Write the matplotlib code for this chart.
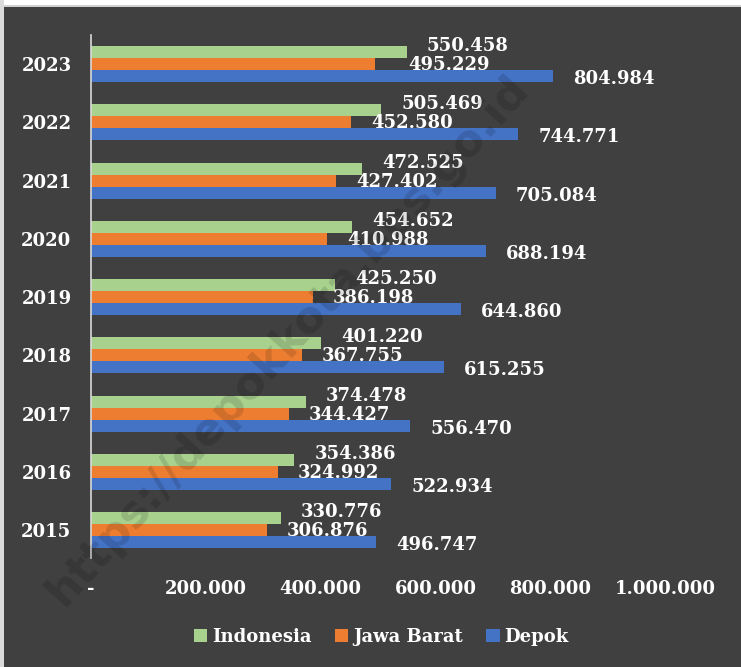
import matplotlib
matplotlib.use("Agg")
import matplotlib.pyplot as plt
from matplotlib.patches import Rectangle, Patch
import numpy as np

years = ["2015", "2016", "2017", "2018", "2019", "2020", "2021", "2022", "2023"]
indonesia = [330776, 354386, 374478, 401220, 425250, 454652, 472525, 505469, 550458]
jawa_barat = [306876, 324992, 344427, 367755, 386198, 410988, 427402, 452580, 495229]
depok = [496747, 522934, 556470, 615255, 644860, 688194, 705084, 744771, 804984]
series_names = ["Indonesia", "Jawa Barat", "Depok"]
xticks = [0, 200000, 400000, 600000, 800000, 1000000]

BG = "#404040"
colors = ["#A9D18E", "#ED7D31", "#4472C4"]
FONT = "DejaVu Serif"

def fmt(v):
    return "-" if v == 0 else f"{v:,}".replace(",", ".")

W, H = 741, 667
fig = plt.figure(figsize=(W / 100, H / 100), dpi=100, facecolor=BG)
ax = fig.add_axes([91 / W, (H - 558) / H, (665 - 91) / W, (558 - 35) / H])
ax.set_facecolor(BG)

y = np.arange(len(years))
bh = 0.206
offsets = [bh, 0, -bh]
label_dy = [6, -1, -3]  # pixels
for vals, off, c, name, dy in zip([indonesia, jawa_barat, depok], offsets, colors, series_names, label_dy):
    ax.barh(y + off, vals, height=bh, color=c, label=name, zorder=2)
    for yi, v in zip(y, vals):
        dx = 20
        if name == "Jawa Barat" and yi == len(years) - 1:
            dx = 33
        ax.annotate(fmt(v), xy=(v, yi + off), xytext=(dx * 0.72, dy * 0.72),
                    textcoords="offset points", ha="left", va="center",
                    color="white", fontsize=13, fontweight="bold", family=FONT, zorder=3)

ax.set_xlim(0, 1000000)
ax.set_ylim(-0.48, 8.5)
ax.set_xticks(xticks)
ax.set_xticklabels([fmt(v) for v in xticks])
ax.set_yticks(y)
ax.set_yticklabels(years)
for lab in ax.get_xticklabels() + ax.get_yticklabels():
    lab.set_color("white")
    lab.set_fontsize(13)
    lab.set_fontweight("bold")
    lab.set_family(FONT)
ax.tick_params(axis="x", length=0, pad=16)
ax.tick_params(axis="y", length=0, pad=14)
for s in ["top", "right", "bottom"]:
    ax.spines[s].set_visible(False)
ax.spines["left"].set_color("#D9D9D9")
ax.spines["left"].set_linewidth(1.2)

handles = [Patch(facecolor=c, edgecolor="none") for c in colors]
leg = fig.legend(handles, series_names, loc="center", bbox_to_anchor=(381 / W, 1 - 637 / H),
                 ncol=3, frameon=False, handlelength=0.75, handleheight=0.75,
                 handletextpad=0.25, columnspacing=1.3,
                 prop={"family": FONT, "weight": "bold", "size": 13})
for t in leg.get_texts():
    t.set_color("white")

# image border (top and left)
fig.patches.append(Rectangle((0, 1 - 5 / H), 1, 5 / H, transform=fig.transFigure,
                             facecolor="white", edgecolor="none", zorder=5))
fig.patches.append(Rectangle((0, 1 - 7 / H), 1, 2 / H, transform=fig.transFigure,
                             facecolor="#D0D0D0", edgecolor="none", zorder=5))
fig.patches.append(Rectangle((0, 0), 4 / W, 1, transform=fig.transFigure,
                             facecolor="#DADADA", edgecolor="none", zorder=5))

# watermark
fig.text(288 / W, 1 - 340 / H, "https://depokkota.bps.go.id", rotation=48,
         ha="center", va="center", fontsize=32, fontweight="bold", family="DejaVu Sans",
         color="black", alpha=0.13, zorder=10)

fig.savefig("out.png", dpi=100, facecolor=BG)
